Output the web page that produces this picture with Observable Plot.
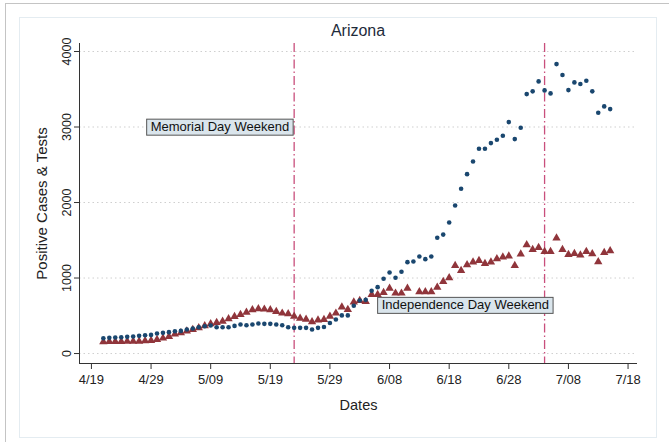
<!DOCTYPE html>
<html>
<head>
<meta charset="utf-8">
<script src="https://cdn.jsdelivr.net/npm/d3@7"></script>
<script src="https://cdn.jsdelivr.net/npm/@observablehq/plot@0.6"></script>
<style>
  body { margin: 0; background: #fff; font-family: "Liberation Sans", Arial, sans-serif; }
  #wrap { position: relative; width: 669px; height: 442px; overflow: hidden; background: #fff; }
  #outer { position: absolute; left: 5px; top: 3px; width: 700px; height: 500px; border-left: 1px solid #c4c4c4; border-top: 1px solid #c4c4c4; }
  #inner { position: absolute; left: 19px; top: 17px; width: 636px; height: 419px; border: 1px solid #e4ecf1; }
  #chart { position: absolute; left: 0; top: 0; }
  #title { position: absolute; left: 79px; width: 558px; top: 22px; text-align: center; font-size: 16px; color: #1e2b3a; }
</style>
</head>
<body>
<div id="wrap">
  <div id="outer"></div>
  <div id="inner"></div>
  <div id="chart"></div>
  <div id="title">Arizona</div>
</div>
<script>
// ---- data ----
const firstDate = "2020-04-21";
const dailyCases = [ // blue dots
  203, 208, 212, 216, 221, 225, 234, 243, 247, 265,
  274, 283, 296, 300, 318, 331, 349, 362, 371, 349,
  349, 349, 366, 384, 375, 384, 397, 393, 393, 384,
  375, 349, 340, 340, 340, 318, 340, 352, 405, 450,
  505, 505, 632, 702, 711, 831, 879, 990, 1073, 1003,
  1083, 1210, 1219, 1285, 1250, 1285, 1533, 1575, 1735, 1961,
  2182, 2376, 2544, 2712, 2712, 2787, 2831, 2884, 3065, 2840,
  2990, 3436, 3472, 3604, 3485, 3445, 3833, 3688, 3489, 3591,
  3569, 3613, 3472, 3189, 3273, 3237
];
const dailyTests = [ // red triangles
  155, 159, 159, 159, 163, 163, 163, 168, 172, 185,
  203, 225, 256, 274, 296, 318, 340, 367, 393, 411,
  428, 459, 490, 517, 547, 578, 592, 587, 578, 556,
  534, 525, 494, 466, 452, 420, 443, 450, 494, 534,
  614, 583, 680, 702, 689, 782, 782, 808, 865, 799,
  799, 865, null, 817, 817, 817, 878, 954, 1003, 1165,
  1100, 1175, 1210, 1232, 1192, 1210, 1254, 1276, 1290, 1166,
  1316, 1440, 1378, 1404, 1351, 1351, 1528, 1378, 1312, 1325,
  1303, 1351, 1320, 1215, 1338, 1360
];
const eventDates = ["2020-05-23", "2020-07-04"];
const eventLabels = ["Memorial Day Weekend", "Independence Day Weekend"];
const labelDates = ["2020-05-23", "2020-06-06"];
const labelValues = [3000, 640];
const labelAnchors = ["end", "start"];
const xTickDates = ["2020-04-19", "2020-04-29", "2020-05-09", "2020-05-19", "2020-05-29",
                    "2020-06-08", "2020-06-18", "2020-06-28", "2020-07-08", "2020-07-18"];
const xTickLabels = ["4/19", "4/29", "5/09", "5/19", "5/29", "6/08", "6/18", "6/28", "7/08", "7/18"];
const yTicks = [0, 1000, 2000, 3000, 4000];
const xDomain = ["2020-04-17", "2020-07-19T14:00:00Z"];
const yDomain = [-132, 4106];

// ---- build tables ----
const start = new Date(firstDate);
const cases = dailyCases.map((v, i) => ({date: d3.utcDay.offset(start, i), value: v}));
const tests = dailyTests.map((v, i) => ({date: d3.utcDay.offset(start, i), value: v})).filter(d => d.value != null);
const events = eventDates.map(d => ({date: new Date(d)}));
const notes = eventLabels.map((t, i) => ({date: new Date(labelDates[i]), value: labelValues[i], text: t, anchor: labelAnchors[i]}));
const xt = xTickDates.map(d => new Date(d));
const tickLabel = new Map(xt.map((d, i) => [+d, xTickLabels[i]]));

const blue = "#1a476f", red = "#90353b", pink = "#c94f7c";
const font = "'Liberation Sans', Arial, sans-serif";

const chart = Plot.plot({
  width: 669,
  height: 442,
  marginLeft: 79,
  marginRight: 32,
  marginTop: 43,
  marginBottom: 79,
  style: {fontFamily: font, background: "transparent", color: "#222"},
  x: {type: "utc", domain: xDomain.map(d => new Date(d))},
  y: {domain: yDomain},
  marks: [
    Plot.gridY(yTicks, {stroke: "#cfcfcf", strokeOpacity: 1, strokeDasharray: "1.5,3"}),
    Plot.ruleX(events, {x: "date", stroke: pink, strokeWidth: 1.3, strokeDasharray: "9,3,1.5,3"}),
    Plot.ruleX([new Date(xDomain[0])], {stroke: "#333"}),
    Plot.ruleY([yDomain[0]], {stroke: "#333"}),
    Plot.axisY({ticks: yTicks, tickSize: 5, tickPadding: 4, tickRotate: -90, fontSize: 12.5, label: null, stroke: "#333",
                tickFormat: d => String(d)}),
    Plot.axisX({ticks: xt, tickSize: 6, tickPadding: 5, fontSize: 13, label: null, stroke: "#333",
                tickFormat: d => tickLabel.get(+d)}),
    Plot.text(["Positive Cases & Tests"], {frameAnchor: "left", rotate: -90, dx: -37, textAnchor: "middle", fontSize: 15, fill: "#222"}),
    Plot.text(["Dates"], {frameAnchor: "bottom", dy: 46, textAnchor: "middle", fontSize: 14.5, fill: "#222"}),
    Plot.dot(tests, {x: "date", y: "value", symbol: "triangle", r: 3.1, fill: red, stroke: "none"}),
    Plot.dot(cases, {x: "date", y: "value", r: 2.3, fill: blue, stroke: "none"}),
    Plot.text(notes.filter(d => d.anchor === "end"), {x: "date", y: "value", text: "text", textAnchor: "end", fontSize: 13, fill: "#111", dx: -5}),
    Plot.text(notes.filter(d => d.anchor === "start"), {x: "date", y: "value", text: "text", textAnchor: "start", fontSize: 13, fill: "#111", dx: 4})
  ]
});
document.getElementById("chart").appendChild(chart);

// boxes behind annotation texts
chart.querySelectorAll("text").forEach(t => {
  if (!eventLabels.includes(t.textContent)) return;
  const b = t.getBBox();
  const tr = t.getAttribute("transform");
  const r = document.createElementNS("http://www.w3.org/2000/svg", "rect");
  r.setAttribute("x", b.x - 4);
  r.setAttribute("y", b.y);
  r.setAttribute("width", b.width + 8);
  r.setAttribute("height", b.height + 1);
  r.setAttribute("fill", "#dae5ec");
  r.setAttribute("stroke", "#555");
  r.setAttribute("stroke-width", "1");
  if (tr) r.setAttribute("transform", tr);
  t.parentNode.insertBefore(r, t);
});
</script>
</body>
</html>
